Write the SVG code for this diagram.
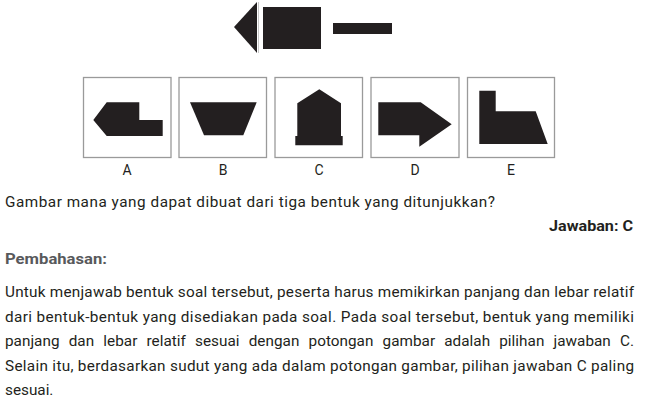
<svg xmlns="http://www.w3.org/2000/svg" width="654" height="400" viewBox="0 0 654 400">
<style>
.shape{fill:#231f20}
.box{fill:#fff;stroke:#9a9a9a;stroke-width:1.3}
.lbl{font-family:Roboto,"Open Sans",sans-serif;font-size:14px;fill:#231f20;text-anchor:middle}
.t{font-family:Roboto,"Open Sans",sans-serif;font-size:15.3px;fill:#231f20}
.b{font-family:Roboto,"Open Sans",sans-serif;font-size:15.5px;font-weight:bold}
</style>
<rect width="654" height="400" fill="#fff"/>
<g id="pieces">
<polygon class="shape" points="234,27 257,2 257,53"/>
<line x1="258.5" y1="2" x2="258.5" y2="53" stroke="#c8c8c8" stroke-width="1"/>
<rect class="shape" x="263" y="7" width="58" height="42"/>
<rect class="shape" x="333" y="23" width="59" height="11"/>
</g>
<g id="optA">
<rect class="box" x="83.5" y="77.5" width="87.5" height="80"/>
<polygon class="shape" points="93.3,120 106.7,102.3 139.3,102.3 139.3,120 162.7,120 162.7,136 106.7,136"/>
<text class="lbl" x="127" y="175">A</text>
</g>
<g id="optB">
<rect class="box" x="179" y="77.5" width="87.5" height="80"/>
<polygon class="shape" points="190,102.3 256.7,102.3 243.3,135.3 204,135.3"/>
<text class="lbl" x="223" y="175">B</text>
</g>
<g id="optC">
<rect class="box" x="275" y="77.5" width="87.5" height="80"/>
<polygon class="shape" points="319.3,89.3 341,103.3 341,136 342.7,136 342.7,145.3 295.3,145.3 295.3,136 297.3,136 297.3,103.3"/>
<text class="lbl" x="319" y="175">C</text>
</g>
<g id="optD">
<rect class="box" x="371" y="77.5" width="88" height="80"/>
<polygon class="shape" points="378.3,102.3 420.7,102.3 451.7,124.3 419.3,146.7 419.3,135.3 378.3,135.3"/>
<text class="lbl" x="415" y="175">D</text>
</g>
<g id="optE">
<rect class="box" x="467.5" y="77.5" width="87" height="80"/>
<polygon class="shape" points="479.3,90.7 495.7,90.7 495.7,111.3 535.7,111.3 547.7,144 479.3,144"/>
<text class="lbl" x="511" y="175">E</text>
</g>
<g id="texts">
<text class="t" x="5" y="207" textLength="490" lengthAdjust="spacing">Gambar mana yang dapat dibuat dari tiga bentuk yang ditunjukkan?</text>
<text class="b" x="549" y="231" fill="#231f20" textLength="84" lengthAdjust="spacingAndGlyphs">Jawaban: C</text>
<text class="b" x="5" y="264" fill="#58595b" textLength="102" lengthAdjust="spacingAndGlyphs">Pembahasan:</text>
<text class="t" x="5" y="297" textLength="629" lengthAdjust="spacing">Untuk menjawab bentuk soal tersebut, peserta harus memikirkan panjang dan lebar relatif</text>
<text class="t" x="5" y="321.5" textLength="629" lengthAdjust="spacing">dari bentuk-bentuk yang disediakan pada soal. Pada soal tersebut, bentuk yang memiliki</text>
<text class="t" x="5" y="346" word-spacing="5.3" textLength="629" lengthAdjust="spacing">panjang dan lebar relatif sesuai dengan potongan gambar adalah pilihan jawaban C.</text>
<text class="t" x="5" y="370.5" textLength="629" lengthAdjust="spacing">Selain itu, berdasarkan sudut yang ada dalam potongan gambar, pilihan jawaban C paling</text>
<text class="t" x="5" y="395">sesuai.</text>
</g>
</svg>
